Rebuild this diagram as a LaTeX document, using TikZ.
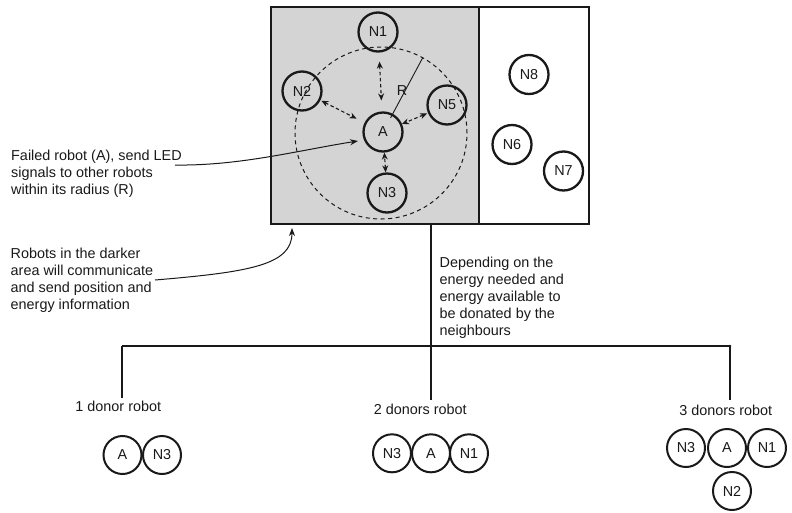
\documentclass[tikz,border=0pt]{standalone}
\usepackage{fontspec}
\setmainfont{Liberation Sans}
\usetikzlibrary{arrows.meta}
\definecolor{areagray}{RGB}{212,212,212}
\definecolor{ink}{RGB}{25,25,25}
\begin{document}
\begin{tikzpicture}[x=1pt,y=-1pt,
  txt/.style={font=\fontsize{14.4}{17}\selectfont, text=ink, inner sep=0pt},
  note/.style={txt, align=left, anchor=north west},
  robot/.style={circle, draw=ink, line width=2.3pt, minimum size=39pt, inner sep=0pt, txt},
  donor/.style={circle, draw=ink, line width=2pt, minimum size=38pt, inner sep=0pt, txt},
  area/.style={draw=ink, line width=1.3pt, inner sep=0pt},
  link/.style={draw=ink, line width=1.1pt, dash pattern=on 3.5pt off 2.5pt, {Stealth[length=7pt,width=6pt]}-{Stealth[length=7pt,width=6pt]}},
  callout/.style={draw=ink, line width=1pt, -{Stealth[length=8pt,width=6pt]}},
  tree/.style={draw=ink, line width=1.4pt},
]
\useasboundingbox (0,0) rectangle (792,512);
% areas
\node[area, fill=white, minimum width=110pt, minimum height=217pt] (light) at (534,115.5) {};
\node[area, fill=areagray, minimum width=208pt, minimum height=217pt] (dark) at (375,115.5) {};
% range
\node[circle, draw=ink, line width=1pt, dash pattern=on 4pt off 3.5pt, minimum size=172pt, inner sep=0pt] (range) at (381,133) {};
% robots
\node[robot] (N1) at (378,32) {N1};
\node[robot] (N2) at (302,91) {N2};
\node[robot] (A) at (383,132) {A};
\node[robot] (N5) at (447,105) {N5};
\node[robot] (N3) at (387,193) {N3};
\node[robot] (N8) at (529,74.5) {N8};
\node[robot] (N6) at (512,144.5) {N6};
\node[robot] (N7) at (563.5,171) {N7};
% links
\draw[link, shorten <=9pt, shorten >=11pt] (N1) -- (A);
\draw[link, shorten <=1pt, shorten >=9pt] (N2) -- (A);
\draw[link, shorten <=1pt] (N5) -- (A);
\draw[link] (N3) -- (A);
% radius
\draw[draw=ink, line width=0.9pt, shorten <=16pt] (A.center) -- (range.61);
\node[txt] (Rlab) at (402,91) {R};
% notes
\node[note] (failed) at (11,149.5) {Failed robot (A), send LED\\signals to other robots\\within its radius (R)};
\node[note] (darker) at (10.5,247.8) {Robots in the darker\\area will communicate\\and send position and\\energy information};
\node[note] (depend) at (439.5,256.8) {Depending on the\\energy needed and\\energy available to\\be donated by the\\neighbours};
\coordinate (f0) at (175,165);
\coordinate (ftip) at (358,141);
\draw[callout] (f0) .. controls (240,166) and (300,150) .. (ftip);
\coordinate (d0) at (155,280);
\coordinate (dtip) at (292,228);
\draw[callout] (d0) .. controls (250,272) and (292,265) .. (dtip);
% tree
\coordinate (stem) at (431,224);
\coordinate (hub) at (431,346);
\coordinate (brL) at (122,346);
\coordinate (brR) at (730,346);
\node[txt, anchor=base] (lab1) at (118.3,411.7) {1 donor robot};
\node[txt, anchor=base] (lab2) at (420.2,414) {2 donors robot};
\node[txt, anchor=base] (lab3) at (725.7,415) {3 donors robot};
\draw[tree] (stem) -- (hub);
\draw[tree] (brL) -- (brR);
\fill[ink] (brR) circle (1.4pt);
\draw[tree, shorten >=3pt] (brL) -- (brL |- lab1.north);
\draw[tree, shorten >=3pt] (hub) -- (hub |- lab2.north);
\draw[tree, shorten >=4pt] (brR) -- (brR |- lab3.north);
% donors
\node[donor] (oA) at (122.5,455) {A};
\node[donor] (oN3) at (162,455) {N3};
\node[donor] (tN3) at (392,453.3) {N3};
\node[donor] (tA) at (431,453.3) {A};
\node[donor] (tN1) at (469,453.3) {N1};
\node[donor] (hN3) at (686,448) {N3};
\node[donor] (hA) at (727,448) {A};
\node[donor] (hN1) at (767,448) {N1};
\node[donor] (hN2) at (732,491) {N2};
\end{tikzpicture}
\end{document}
